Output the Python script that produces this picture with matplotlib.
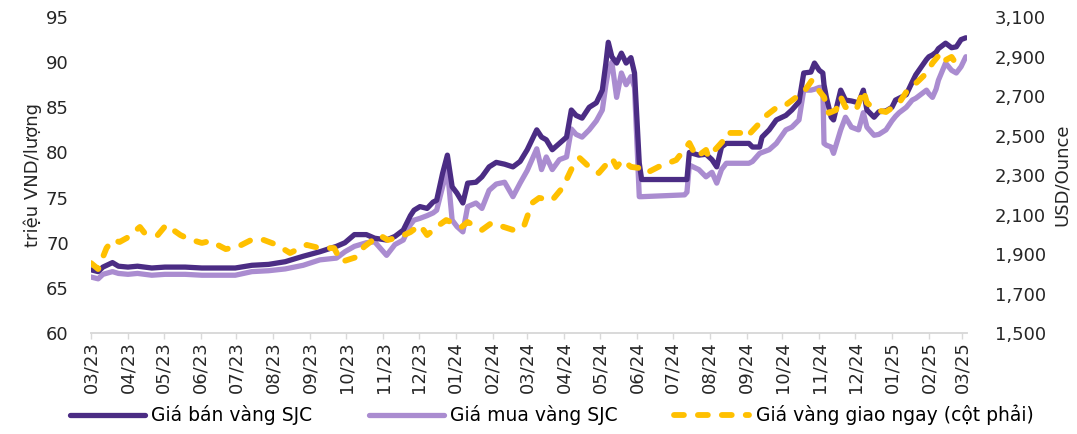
import numpy as np
import pandas as pd
import matplotlib
matplotlib.use("Agg")
import matplotlib.pyplot as plt
import matplotlib.dates as mdates
from matplotlib.ticker import FuncFormatter

plt.rcParams['font.family'] = ['DejaVu Sans']

# SJC gold bar prices (million VND / tael)
sjc_dates = [
    '2023-03-01', '2023-03-07', '2023-03-11', '2023-03-19', '2023-03-24', '2023-04-01',
    '2023-04-09', '2023-04-21', '2023-05-02', '2023-05-19', '2023-06-02', '2023-06-15',
    '2023-06-30', '2023-07-14', '2023-07-28', '2023-08-11', '2023-08-26', '2023-09-09',
    '2023-09-23', '2023-09-30', '2023-10-08', '2023-10-18', '2023-10-25', '2023-11-04',
    '2023-11-11', '2023-11-18', '2023-11-24', '2023-11-27', '2023-12-02', '2023-12-08',
    '2023-12-13', '2023-12-16', '2023-12-21', '2023-12-25', '2023-12-29', '2024-01-02',
    '2024-01-07', '2024-01-11', '2024-01-18', '2024-01-23', '2024-01-29', '2024-02-04',
    '2024-02-11', '2024-02-18', '2024-02-24', '2024-03-01', '2024-03-09', '2024-03-13',
    '2024-03-17', '2024-03-22', '2024-03-28', '2024-04-03', '2024-04-07', '2024-04-11',
    '2024-04-16', '2024-04-22', '2024-04-28', '2024-05-03', '2024-05-06', '2024-05-08',
    '2024-05-11', '2024-05-15', '2024-05-19', '2024-05-23', '2024-05-27', '2024-05-30',
    '2024-06-03', '2024-06-05', '2024-07-11', '2024-07-13', '2024-07-15', '2024-07-23',
    '2024-07-29', '2024-08-03', '2024-08-07', '2024-08-11', '2024-08-15', '2024-09-03',
    '2024-09-06', '2024-09-12', '2024-09-14', '2024-09-20', '2024-09-26', '2024-10-04',
    '2024-10-09', '2024-10-15', '2024-10-19', '2024-10-25', '2024-10-28', '2024-11-01',
    '2024-11-04', '2024-11-05', '2024-11-07', '2024-11-11', '2024-11-13', '2024-11-19',
    '2024-11-23', '2024-11-28', '2024-12-04', '2024-12-08', '2024-12-11', '2024-12-17',
    '2024-12-21', '2024-12-27', '2025-01-01', '2025-01-04', '2025-01-07', '2025-01-13',
    '2025-01-18', '2025-01-21', '2025-01-30', '2025-02-01', '2025-02-04', '2025-02-07',
    '2025-02-09', '2025-02-15', '2025-02-20', '2025-02-24', '2025-02-28', '2025-03-04',
]
sjc_sell = [
    67.0, 66.8, 67.3, 67.8, 67.4, 67.3,
    67.4, 67.2, 67.3, 67.3, 67.2, 67.2,
    67.2, 67.5, 67.6, 67.9, 68.5, 69.0,
    69.6, 70.0, 70.9, 70.9, 70.5, 70.3,
    70.7, 71.4, 73.0, 73.6, 74.0, 73.8,
    74.5, 74.7, 77.7, 79.7, 76.2, 75.5,
    74.4, 76.6, 76.7, 77.3, 78.4, 78.9,
    78.7, 78.4, 79.0, 80.3, 82.5, 81.7,
    81.4, 80.3, 81.0, 81.7, 84.7, 84.1,
    83.8, 85.0, 85.5, 86.9, 89.9, 92.2,
    90.6, 89.9, 91.0, 89.9, 90.5, 88.8,
    78.8, 77.0, 77.0, 77.0, 80.0, 79.7,
    79.8, 79.2, 78.4, 80.6, 81.0, 81.0,
    80.6, 80.6, 81.7, 82.5, 83.6, 84.1,
    84.7, 85.6, 88.8, 88.9, 89.9, 89.1,
    88.8, 87.5, 86.1, 83.9, 83.6, 86.9,
    85.8, 85.7, 85.5, 86.9, 84.7, 83.9,
    84.5, 84.6, 85.0, 85.8, 86.0, 86.4,
    87.8, 88.6, 90.3, 90.6, 90.8, 91.1,
    91.5, 92.1, 91.6, 91.7, 92.5, 92.7,
]
sjc_buy = [
    66.2, 66.0, 66.5, 66.8, 66.6, 66.5,
    66.6, 66.4, 66.5, 66.5, 66.4, 66.4,
    66.4, 66.8, 66.9, 67.1, 67.5, 68.1,
    68.3, 69.0, 69.6, 70.0, 70.1, 68.6,
    69.8, 70.3, 72.0, 72.5, 72.7, 73.0,
    73.3, 73.6, 76.2, 78.1, 72.5, 71.8,
    71.2, 74.0, 74.4, 73.8, 75.8, 76.5,
    76.7, 75.1, 76.6, 78.0, 80.4, 78.1,
    79.5, 78.1, 79.2, 79.5, 82.6, 82.0,
    81.7, 82.5, 83.5, 84.7, 87.5, 89.0,
    90.0, 86.1, 88.8, 87.5, 88.4, 87.2,
    75.1, 75.1, 75.3, 75.6, 78.6, 78.1,
    77.3, 77.8, 76.6, 78.1, 78.8, 78.8,
    79.0, 79.9, 80.0, 80.3, 81.0, 82.5,
    82.8, 83.6, 86.9, 86.9, 87.0, 87.2,
    87.2, 81.0, 80.8, 80.6, 79.9, 82.5,
    83.9, 82.8, 82.5, 84.4, 82.8, 81.9,
    82.0, 82.5, 83.5, 84.0, 84.4, 85.0,
    85.8, 86.0, 86.9, 86.5, 86.1, 87.0,
    88.0, 89.9, 89.1, 88.8, 89.5, 90.6,
]

# Spot gold price (USD / ounce), right axis
spot_dates = [
    '2023-03-01', '2023-03-07', '2023-03-14', '2023-03-19', '2023-03-25', '2023-03-31',
    '2023-04-11', '2023-04-15', '2023-04-26', '2023-05-03', '2023-05-15', '2023-05-22',
    '2023-06-02', '2023-06-09', '2023-06-22', '2023-07-02', '2023-07-15', '2023-07-24',
    '2023-08-04', '2023-08-15', '2023-08-29', '2023-09-09', '2023-09-21', '2023-09-27',
    '2023-10-10', '2023-10-16', '2023-10-29', '2023-11-05', '2023-11-15', '2023-11-24',
    '2023-12-02', '2023-12-08', '2023-12-17', '2023-12-24', '2024-01-06', '2024-01-11',
    '2024-01-23', '2024-01-31', '2024-02-18', '2024-02-27', '2024-03-05', '2024-03-11',
    '2024-03-22', '2024-03-31', '2024-04-08', '2024-04-14', '2024-04-22', '2024-04-30',
    '2024-05-11', '2024-05-15', '2024-05-20', '2024-05-27', '2024-06-04', '2024-06-09',
    '2024-06-19', '2024-07-04', '2024-07-15', '2024-07-21', '2024-07-29', '2024-07-31',
    '2024-08-13', '2024-08-15', '2024-08-28', '2024-09-01', '2024-09-12', '2024-09-16',
    '2024-09-28', '2024-10-04', '2024-10-13', '2024-10-19', '2024-10-26', '2024-10-30',
    '2024-11-05', '2024-11-09', '2024-11-15', '2024-11-19', '2024-11-23', '2024-12-02',
    '2024-12-08', '2024-12-11', '2024-12-19', '2024-12-27', '2025-01-07', '2025-01-13',
    '2025-01-24', '2025-01-30', '2025-02-04', '2025-02-11', '2025-02-15', '2025-02-20',
    '2025-02-26',
]
spot_price = [
    1854, 1824, 1930, 1971, 1961, 1981,
    2037, 2006, 1996, 2047, 1996, 1976,
    1956, 1966, 1925, 1936, 1976, 1971,
    1946, 1905, 1946, 1930, 1930, 1860,
    1885, 1936, 1996, 1971, 1986, 2011,
    2047, 1996, 2042, 2072, 2037, 2062,
    2022, 2057, 2022, 2037, 2158, 2184,
    2173, 2239, 2341, 2386, 2341, 2310,
    2386, 2341, 2376, 2341, 2335, 2310,
    2341, 2376, 2462, 2391, 2427, 2391,
    2477, 2513, 2513, 2492, 2563, 2594,
    2650, 2655, 2695, 2720, 2781, 2741,
    2695, 2614, 2629, 2695, 2644, 2629,
    2730, 2665, 2629, 2619, 2665, 2720,
    2781, 2816, 2867, 2918, 2882, 2898,
    2842,
]

month_fmt = '%m/%y'
labels = ['Giá bán vàng SJC', 'Giá mua vàng SJC', 'Giá vàng giao ngay (cột phải)']
dark = '#4B2C84'
light = '#AA8CD0'
gold = '#FFC000'
axis_grey = '#D9D9D9'
text_col = '#262626'
fs = 13

fig = plt.figure(figsize=(10.77, 4.34), dpi=100)
ax = fig.add_axes([0.0845, 0.2327, 0.8134, 0.7281])
ax2 = ax.twinx()

d_sjc = pd.to_datetime(sjc_dates)
d_spot = pd.to_datetime(spot_dates)

l2, = ax.plot(d_sjc, sjc_buy, color=light, lw=3.8, solid_capstyle='round',
              solid_joinstyle='round', zorder=2)
l1, = ax.plot(d_sjc, sjc_sell, color=dark, lw=3.8, solid_capstyle='round',
              solid_joinstyle='round', zorder=3)
l3, = ax2.plot(d_spot, spot_price, color=gold, lw=4.2, dashes=(1.7, 2.4),
               dash_capstyle='round', dash_joinstyle='round')

ax.set_xlim(pd.Timestamp('2023-03-01'), pd.Timestamp('2025-03-05'))
ax.set_ylim(60, 95)
ax.set_yticks(np.arange(60, 96, 5))
ax2.set_ylim(1500, 3100)
ax2.set_yticks(np.arange(1500, 3101, 200))
ax2.yaxis.set_major_formatter(FuncFormatter(lambda v, p: f'{v:,.0f}'))

ax.xaxis.set_major_locator(mdates.MonthLocator())
ax.xaxis.set_major_formatter(mdates.DateFormatter(month_fmt))
ax.tick_params(axis='x', direction='out', length=4, width=1, color=axis_grey,
               labelrotation=90, labelsize=fs, pad=2, labelcolor=text_col)
ax.tick_params(axis='y', length=0, labelsize=fs, pad=16, labelcolor=text_col)
ax2.tick_params(axis='y', length=0, labelsize=fs, pad=20, labelcolor=text_col)

for a in (ax, ax2):
    for s in ('top', 'left', 'right'):
        a.spines[s].set_visible(False)
    a.spines['bottom'].set_color(axis_grey)
    a.spines['bottom'].set_linewidth(1.2)

ax.set_ylabel('triệu VND/lượng', fontsize=fs, color=text_col, labelpad=3)
ax2.set_ylabel('USD/Ounce', fontsize=fs, color=text_col, labelpad=5)

fig.legend([l1, l2, l3], labels, loc='center', bbox_to_anchor=(0.512, 0.044),
           ncol=3, frameon=False, fontsize=13.5, handlelength=4.0,
           handletextpad=0.35, columnspacing=3.0)

fig.savefig('out.png', dpi=100)
